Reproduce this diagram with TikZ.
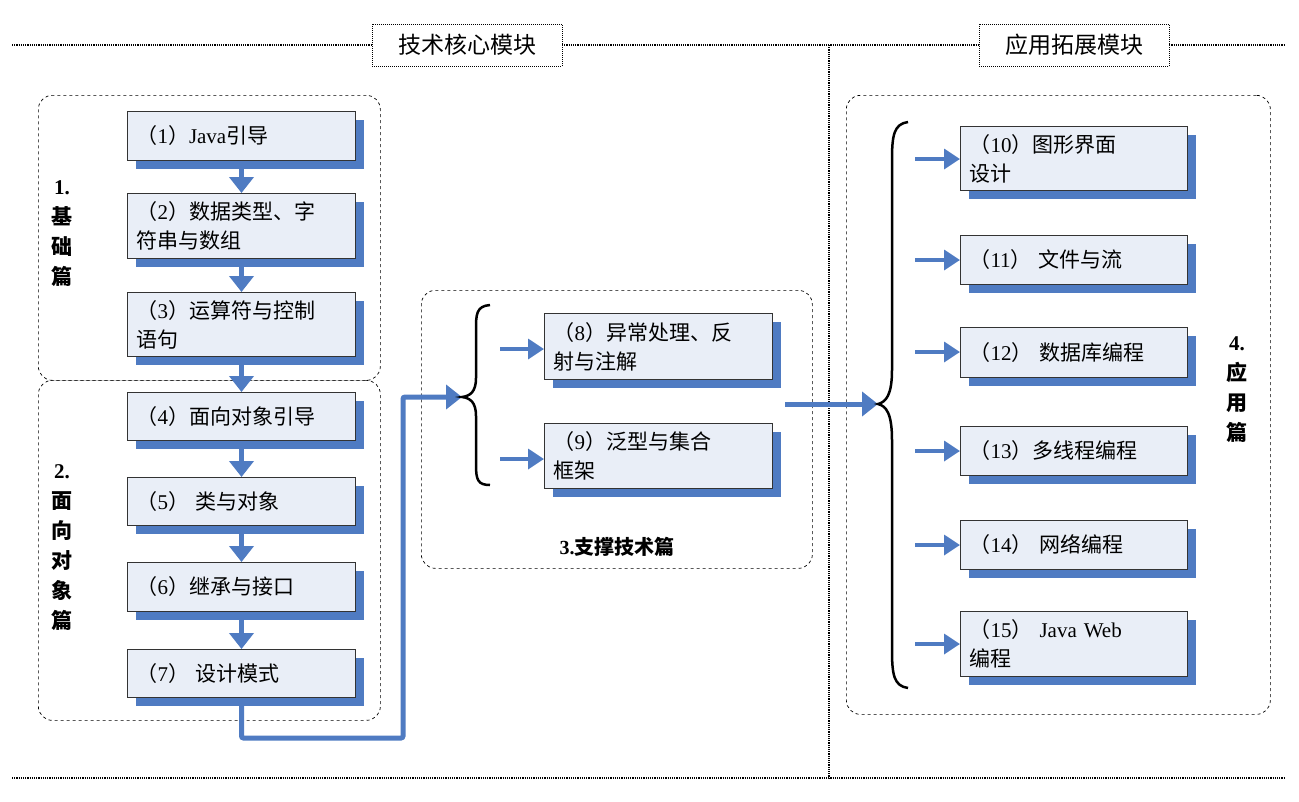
\documentclass[tikz,border=0pt]{standalone}
\usepackage{fontspec}
\setmainfont{Noto Sans CJK SC}
\newfontfamily\rmlat{Liberation Serif}
\newcommand{\R}[1]{{\rmlat #1}}
\usetikzlibrary{arrows.meta,shadows}
\definecolor{shblue}{HTML}{4F7BC2}
\definecolor{boxfill}{HTML}{E9EEF7}
\begin{document}
\begin{tikzpicture}[x=1pt,y=-1pt,
  box/.style={draw=black!80,line width=1pt,fill=boxfill,anchor=north west,text width=210pt,inner xsep=9pt,align=left,
    font=\fontsize{21}{29}\selectfont,
    drop shadow={shadow xshift=8pt,shadow yshift=-8pt,fill=shblue,opacity=1}},
  grp/.style={draw,dashed,line width=0.7pt,rounded corners=14pt,anchor=north west,inner sep=0pt},
  barrow/.style={draw=shblue,line width=5pt,-{Triangle[width=24pt,length=16pt]}},
  sarrow/.style={draw=shblue,line width=3.5pt,-{Triangle[width=20pt,length=16pt]}},
  title/.style={draw,densely dotted,line width=1pt,fill=white,font=\fontsize{23}{26}\selectfont,minimum width=190pt,minimum height=42pt,inner sep=0pt},
  side/.style={font=\bfseries\fontsize{21}{30}\selectfont,align=center},
  brace/.style={line width=2.5pt}]
\useasboundingbox (0,0) rectangle (1299,801);
% frame lines
\coordinate (tl) at (12,45); \coordinate (tr) at (1285,45);
\coordinate (bl) at (12,778); \coordinate (br) at (1285,778);
\coordinate (vt) at (829,45); \coordinate (vb) at (829,778);
\draw[densely dotted,line width=1.2pt] (tl) -- (tr);
\draw[densely dotted,line width=1.2pt] (bl) -- (br);
\draw[densely dotted,line width=1.2pt] (vt) -- (vb);
\node[title] (t1) at (467,45) {技术核心模块};
\node[title] (t2) at (1074,45) {应用拓展模块};
% groups
\node[grp,minimum width=342pt,minimum height=285pt] (g1) at (38,95) {};
\node[grp,minimum width=342pt,minimum height=340pt] (g2) at (38,380) {};
\node[grp,minimum width=391pt,minimum height=278pt] (g3) at (421,290) {};
\node[grp,minimum width=424pt,minimum height=619pt] (g4) at (846,95) {};
\node[side] (s1) at (62,234) {\R{1.}\\基\\础\\篇};
\node[side] (s2) at (62,548) {\R{2.}\\面\\向\\对\\象\\篇};
\node[side] (s4) at (1237,390) {\R{4.}\\应\\用\\篇};
\node[font=\bfseries\fontsize{20}{24}\selectfont] (s3) at (617,547) {\R{3.}支撑技术篇};
% left boxes
\node[box,minimum height=49pt] (b1) at (127,111) {（\R{1}）\R{Java}引导};
\node[box,minimum height=65pt] (b2) at (127,193) {（\R{2}）数据类型、字\\符串与数组};
\node[box,minimum height=64pt] (b3) at (127,292) {（\R{3}）运算符与控制\\语句};
\node[box,minimum height=48pt] (b4) at (127,392) {（\R{4}）面向对象引导};
\node[box,minimum height=48pt] (b5) at (127,477) {（\R{5}） 类与对象};
\node[box,minimum height=49pt] (b6) at (127,562) {（\R{6}）继承与接口};
\node[box,minimum height=48pt] (b7) at (127,649) {（\R{7}） 设计模式};
\draw[barrow] (b1.south) -- (b2.north);
\draw[barrow] (b2.south) -- (b3.north);
\draw[barrow] (b3.south) -- (b4.north);
\draw[barrow] (b4.south) -- (b5.north);
\draw[barrow] (b5.south) -- (b6.north);
\draw[barrow] (b6.south) -- (b7.north);
% middle
\node[box,minimum height=66pt] (b8) at (544,313) {（\R{8}）异常处理、反\\射与注解};
\node[box,minimum height=65pt] (b9) at (544,423) {（\R{9}）泛型与集合\\框架};
\coordinate (tip3) at (462,397);
\draw[barrow,rounded corners=2pt] (b7.south) -- ++(0,40) -| (403,397) -- (tip3);
\draw[brace] (490,305) .. controls (476,306) and (476,315) .. (476,330) -- (476,378)
  .. controls (476,392) and (470,396) .. (tip3) .. controls (470,398) and (476,402) .. (476,416)
  -- (476,465) .. controls (476,480) and (478,485) .. (490,485);
\coordinate (a8) at (500,349); \coordinate (a9) at (500,459);
\draw[sarrow] (a8) -- (a8 -| b8.west);
\draw[sarrow] (a9) -- (a9 -| b9.west);
% right
\coordinate (tip4) at (878,404);
\coordinate (m3) at (785,404);
\draw[barrow] (m3) -- (tip4);
\draw[brace] (908,122) .. controls (894,124) and (892,135) .. (892,160) -- (892,370)
  .. controls (892,395) and (886,402) .. (tip4) .. controls (886,406) and (892,413) .. (892,440)
  -- (892,650) .. controls (892,675) and (894,686) .. (908,688);
\node[box,minimum height=64pt,text width=209pt] (b10) at (960,126) {（\R{10}）图形界面\\设计};
\node[box,minimum height=49pt,text width=209pt] (b11) at (960,235) {（\R{11}） 文件与流};
\node[box,minimum height=50pt,text width=209pt] (b12) at (960,327) {（\R{12}） 数据库编程};
\node[box,minimum height=49pt,text width=209pt] (b13) at (960,426) {（\R{13}）多线程编程};
\node[box,minimum height=49pt,text width=209pt] (b14) at (960,520) {（\R{14}） 网络编程};
\node[box,minimum height=65pt,text width=209pt] (b15) at (960,611) {（\R{15}） \R{Java Web}\\编程};
\foreach \b/\y in {b10/159,b11/260,b12/352,b13/451,b14/545,b15/644}{
  \coordinate (c\b) at (915,\y);
  \draw[sarrow] (c\b) -- (c\b -| \b.west);
}
\end{tikzpicture}
\end{document}
